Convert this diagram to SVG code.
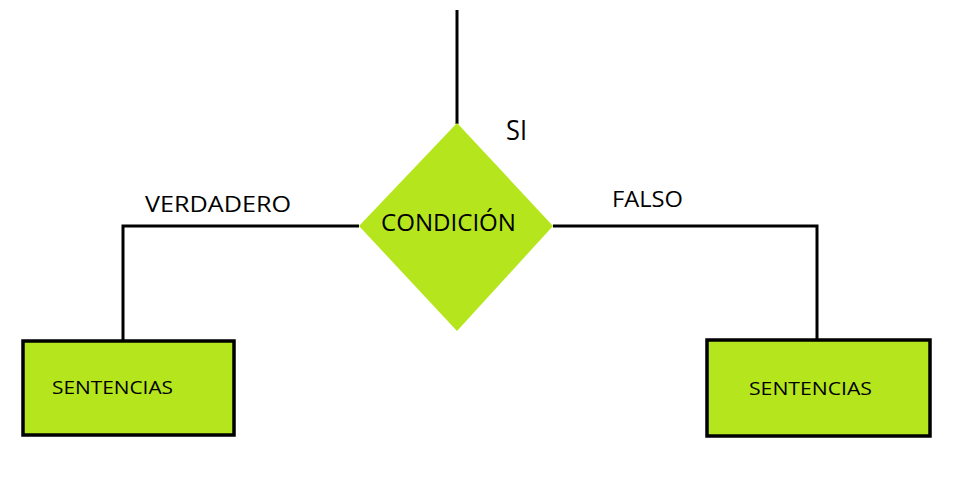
<svg xmlns="http://www.w3.org/2000/svg" width="976" height="500" viewBox="0 0 976 500">
<style>
.shape{fill:#b5e61d}
.box{fill:#b5e61d;stroke:#000;stroke-width:3.5}
.line{fill:none;stroke:#000;stroke-width:3}
text{font-family:"Open Sans","Noto Sans","DejaVu Sans",sans-serif;fill:#000}
</style>
<rect width="976" height="500" fill="#fff"/>
<g id="connectors">
<line class="line" x1="457" y1="10" x2="457" y2="124"/>
<polyline class="line" points="359,226 123,226 123,340"/>
<polyline class="line" points="553,226 817,226 817,339"/>
</g>
<g id="condicion">
<polygon class="shape" points="457,123 553,226 457,331 359,226"/>
<text x="381" y="231" font-size="23" textLength="135" lengthAdjust="spacingAndGlyphs">CONDICIÓN</text>
</g>
<g id="sentencias-left">
<rect class="box" x="23" y="341" width="211" height="94"/>
<text x="52" y="394" font-size="19" textLength="121" lengthAdjust="spacingAndGlyphs">SENTENCIAS</text>
</g>
<g id="sentencias-right">
<rect class="box" x="707" y="340" width="223" height="96"/>
<text x="749" y="395" font-size="19" textLength="123" lengthAdjust="spacingAndGlyphs">SENTENCIAS</text>
</g>
<g id="labels">
<text x="506" y="140" font-size="27" textLength="21" lengthAdjust="spacingAndGlyphs">SI</text>
<text x="145" y="212" font-size="22" textLength="146" lengthAdjust="spacingAndGlyphs">VERDADERO</text>
<text x="612" y="207" font-size="22" textLength="71" lengthAdjust="spacingAndGlyphs">FALSO</text>
</g>
</svg>
